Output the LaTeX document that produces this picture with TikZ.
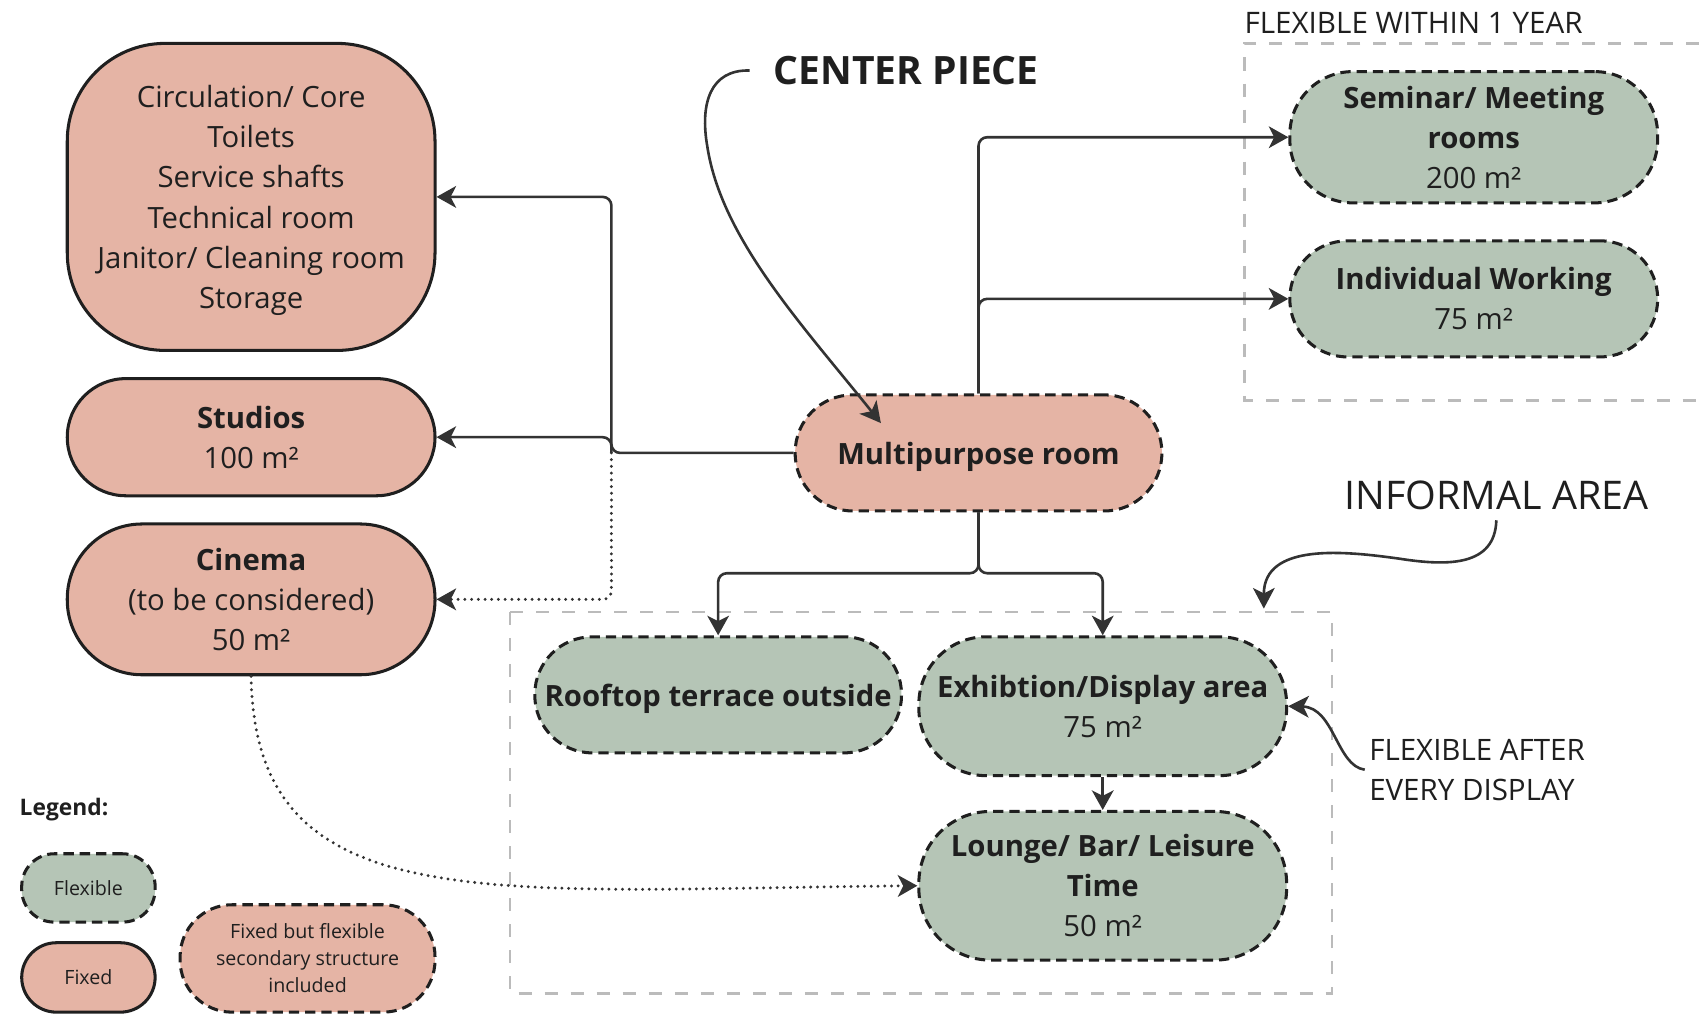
\documentclass[tikz,border=0pt]{standalone}
\usepackage{fontspec}
\setmainfont{Open Sans}
\usetikzlibrary{arrows.meta}
\definecolor{fixedpink}{HTML}{E5B4A5}
\definecolor{flexgreen}{HTML}{B5C5B6}
\definecolor{ink}{HTML}{1F1F1F}
\definecolor{wirecol}{HTML}{333333}
\definecolor{framegray}{HTML}{BBBBBB}
\begin{document}
\begin{tikzpicture}[x=1pt,y=-1pt,
        room/.style={rectangle, rounded corners=#1, draw=ink, line width=2.8pt,
            align=center, text=ink, inner sep=0pt, font=\fontsize{27}{37}\selectfont},
        fixed/.style={room=#1, fill=fixedpink},
        flex/.style={room=#1, fill=flexgreen, dash pattern=on 9.5pt off 5.5pt},
        semifixed/.style={room=#1, fill=fixedpink, dash pattern=on 9.5pt off 5.5pt},
        keytext/.style={font=\fontsize{18.1}{25}\selectfont},
        wire/.style={draw=wirecol, line width=2.4pt, rounded corners=8pt,
            -{Stealth[length=18pt,width=20pt,inset=5pt]}},
        dots/.style={wire, line width=3pt, line cap=round, dash pattern=on 0pt off 6.2pt},
        callout/.style={draw=wirecol, line width=2.4pt,
            -{Stealth[length=19pt,width=20pt,inset=5pt]}},
        area/.style={draw=framegray, line width=2.4pt, dash pattern=on 12pt off 12pt},
        note/.style={text=ink, inner sep=0pt, anchor=west}]
        \useasboundingbox (0,0) rectangle (1568,934);

        % dashed areas
        \draw[area] (1590,40) -- (1147,40) -- (1147,369) -- (1590,369);
        \draw[area] (470,564) rectangle (1228,916);

        % rooms
        \node[fixed=90pt, text depth=0pt, minimum width=339pt, minimum height=283pt] (core) at (231.5,181.5)
            {Circulation/ Core\\Toilets\\Service shafts\\Technical room\\Janitor/ Cleaning room\\Storage};
        \node[fixed=54pt, minimum width=339pt, minimum height=108pt] (studios) at (231.5,403)
            {\textbf{Studios}\\100 m²};
        \node[fixed=69pt, minimum width=339pt, minimum height=139pt] (cinema) at (231.5,552.5)
            {\textbf{Cinema}\\(to be considered)\\50 m²};
        \node[semifixed=53pt, text depth=0pt, minimum width=338pt, minimum height=107pt] (multi) at (902,417.5)
            {\textbf{Multipurpose room}};
        \node[flex=58pt, minimum width=339pt, minimum height=121pt] (seminar) at (1358.5,126.5)
            {\textbf{Seminar/ Meeting}\\\textbf{rooms}\\200 m²};
        \node[flex=53pt, minimum width=339pt, minimum height=107pt] (indiv) at (1358.5,275.5)
            {\textbf{Individual Working}\\75 m²};
        \node[flex=53pt, text depth=0pt, minimum width=338pt, minimum height=107pt] (roof) at (662,640.5)
            {\textbf{Rooftop terrace outside}};
        \node[flex=62pt, minimum width=339pt, minimum height=128pt] (exhib) at (1016.5,651)
            {\textbf{Exhibtion/Display area}\\75 m²};
        \node[flex=66pt, minimum width=339pt, minimum height=137pt] (lounge) at (1016.5,816.5)
            {\textbf{Lounge/ Bar/ Leisure}\\\textbf{Time}\\50 m²};

        % labels
        \node[note, font=\fontsize{27.3}{30}\selectfont] (flexyear) at (1147,21) {FLEXIBLE WITHIN 1 YEAR};
        \node[note, font=\bfseries\fontsize{36}{40}\selectfont] (centre) at (713,65) {CENTER PIECE};
        \node[note, font=\fontsize{36.4}{40}\selectfont] (informal) at (1239,457) {INFORMAL AREA};
        \node[note, align=left, font=\fontsize{27.2}{37}\selectfont] (afterdisp) at (1262,709.5)
            {FLEXIBLE AFTER\\EVERY DISPLAY};

        % legend
        \node[note, font=\bfseries\fontsize{21}{24}\selectfont] (legend) at (18,746) {Legend:};
        \node[flex=30pt, keytext, minimum width=123pt, minimum height=63pt] (keyflex) at (81.5,818.5) {Flexible};
        \node[fixed=32pt, keytext, minimum width=123pt, minimum height=64pt] (keyfixed) at (81.5,901) {Fixed};
        \node[semifixed=48pt, keytext, minimum width=235pt, minimum height=99pt] (keysemi) at (283.5,883.5)
            {Fixed but flexible\\secondary structure\\included};

        % connectors
        \coordinate (split) at ([xshift=-168pt]multi.west);
        \coordinate (fork) at ([yshift=-56pt]multi.south);
        \draw[wire] (multi.west) -- (split) |- (core.east);
        \draw[wire] (split) |- (studios.east);
        \draw[dots] (split) |- (cinema.east);
        \draw[wire] (multi.north) |- (seminar.west);
        \draw[wire] (multi.north) |- (indiv.west);
        \draw[wire] (multi.south) -- (fork) -| (roof.north);
        \draw[wire] (multi.south) -- (fork) -| (exhib.north);
        \draw[wire] (exhib.south) -- (lounge.north);
        \draw[dots] (cinema.south) .. controls (235,850) and (450,820) .. (lounge.west);

        % callouts
        \coordinate (centretip) at (812,390);
        \coordinate (infotip) at (1165,561);
        \draw[callout] ([xshift=-22pt]centre.west) .. controls (655,64) and (645,95) .. (652,135)
            .. controls (665,220) and (740,300) .. (centretip);
        \draw[callout] ([yshift=-9pt]informal.south) .. controls (1378,522) and (1335,522) .. (1290,515)
            .. controls (1240,508) and (1165,500) .. (infotip);
        \draw[callout] ([xshift=-4pt]afterdisp.west) .. controls (1232,706) and (1230,652) .. (exhib.east);
    \end{tikzpicture}
\end{document}
